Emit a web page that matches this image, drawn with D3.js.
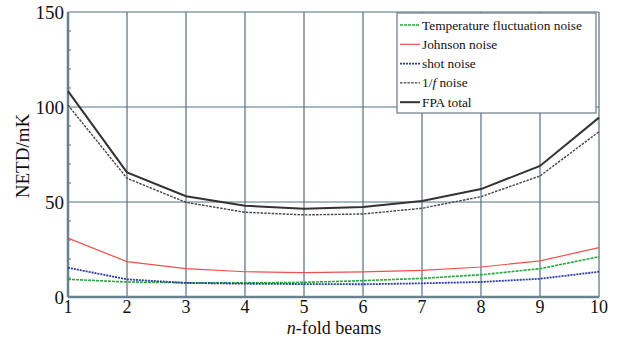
<!DOCTYPE html>
<html><head><meta charset="utf-8">
<script src="https://cdn.jsdelivr.net/npm/d3@7"></script>
<style>body{margin:0;background:#fff}svg{display:block}</style>
</head><body>
<svg id="c" width="617" height="338"></svg>
<script>
const beams = [1,2,3,4,5,6,7,8,9,10];
const tempNoise = [9.3,7.9,7.5,7.4,7.7,8.6,9.8,11.7,14.9,21.2];
const johnsonNoise = [31,18.6,14.9,13.3,12.8,13.2,14,15.8,19,26];
const shotNoise = [15.4,9.3,7.4,7.0,6.8,6.7,7.2,7.9,9.6,13.3];
const flickerNoise = [101,62.5,49.8,44.6,43.2,43.7,46.7,52.8,63.7,87];
const fpaTotal = [108.4,65.6,53,48,46.5,47.4,50.5,56.8,69,94.4];
const yTicks = [0,50,100,150];
const seriesNames = ["Temperature fluctuation noise","Johnson noise","shot noise","1/f noise","FPA total"];

const svg = d3.select("#c");
const L=68,R=599,T=12,B=297;
const x = d3.scaleLinear().domain([1,10]).range([L,R]);
const y = d3.scaleLinear().domain([0,150]).range([B,T]);
const gridCol = "#557080";
const font = "Liberation Serif";

const g = svg.append("g");
g.selectAll(".vx").data(beams).enter().append("line")
  .attr("x1",d=>x(d)).attr("x2",d=>x(d)).attr("y1",T).attr("y2",B)
  .attr("stroke",gridCol).attr("stroke-width",1.2);
g.selectAll(".hy").data(yTicks).enter().append("line")
  .attr("x1",L).attr("x2",R).attr("y1",d=>y(d)).attr("y2",d=>y(d))
  .attr("stroke",gridCol).attr("stroke-width",1.2);
svg.append("line").attr("x1",L).attr("x2",L).attr("y1",T).attr("y2",B).attr("stroke","#6a8290").attr("stroke-width",2.5);
svg.append("line").attr("x1",L).attr("x2",R).attr("y1",B).attr("y2",B).attr("stroke","#6a8290").attr("stroke-width",2.5);
const minor = d3.range(10,150,10).filter(v=>v%50!==0);
svg.selectAll(".mt").data(minor).enter().append("line")
  .attr("x1",L).attr("x2",L+3).attr("y1",d=>y(d)).attr("y2",d=>y(d))
  .attr("stroke","#557080").attr("stroke-width",1);

svg.selectAll(".yl").data(yTicks).enter().append("text")
  .attr("x",L-4).attr("y",d=>y(d)+7).attr("text-anchor","end")
  .attr("font-family",font).attr("font-size",19).attr("fill","#111").text(d=>d);
svg.selectAll(".xl").data(beams).enter().append("text")
  .attr("x",d=>x(d)).attr("y",B+16).attr("text-anchor","middle")
  .attr("font-family",font).attr("font-size",18).attr("fill","#111").text(d=>d);

const xt = svg.append("text").attr("x",334).attr("y",334).attr("text-anchor","middle")
  .attr("font-family",font).attr("font-size",18).attr("fill","#111");
xt.append("tspan").attr("font-style","italic").text("n");
xt.append("tspan").text("-fold beams");
svg.append("text").attr("transform","translate(29,156) rotate(-90)").attr("text-anchor","middle")
  .attr("font-family",font).attr("font-size",19).attr("fill","#111").text("NETD/mK");

const line = d3.line().x((d,i)=>x(beams[i])).y(d=>y(d));
const styles = [
  {data:tempNoise,color:"#22aa3a",w:1.6,dash:"3,1"},
  {data:johnsonNoise,color:"#f0504a",w:1.2,dash:null},
  {data:shotNoise,color:"#2a3aaa",w:1.8,dash:"2,1"},
  {data:flickerNoise,color:"#444",w:1.4,dash:"2.5,1.2"},
  {data:fpaTotal,color:"#333",w:2,dash:null}
];
styles.forEach(s=>{
  svg.append("path").attr("d",line(s.data)).attr("fill","none")
    .attr("stroke",s.color).attr("stroke-width",s.w).attr("stroke-dasharray",s.dash);
});

const lg = svg.append("g");
lg.append("rect").attr("x",397).attr("y",13).attr("width",199).attr("height",100)
  .attr("fill","#fff").attr("stroke","#6a7a85").attr("stroke-width",1.2);
const texts = [];
styles.forEach((s,i)=>{
  const yy = 25 + i*19.3;
  lg.append("line").attr("x1",400).attr("x2",420).attr("y1",yy).attr("y2",yy)
    .attr("stroke",s.color).attr("stroke-width",s.w).attr("stroke-dasharray",s.dash);
  const t = lg.append("text").attr("x",422).attr("y",yy+4.5).attr("font-family",font)
    .attr("font-size",13.5).attr("fill","#111");
  if(seriesNames[i]==="1/f noise"){
    t.append("tspan").text("1/");
    t.append("tspan").attr("font-style","italic").text("f");
    t.append("tspan").text(" noise");
  } else t.text(seriesNames[i]);
  texts.push(t);
});
// fit first legend entry to the reference width (~160px)
const w0 = texts[0].node().getComputedTextLength();
if (w0 > 0) {
  const fs = 13.5 * 160 / w0;
  texts.forEach(t => t.attr("font-size", Math.min(14.5, fs)));
}
</script>
</body></html>
